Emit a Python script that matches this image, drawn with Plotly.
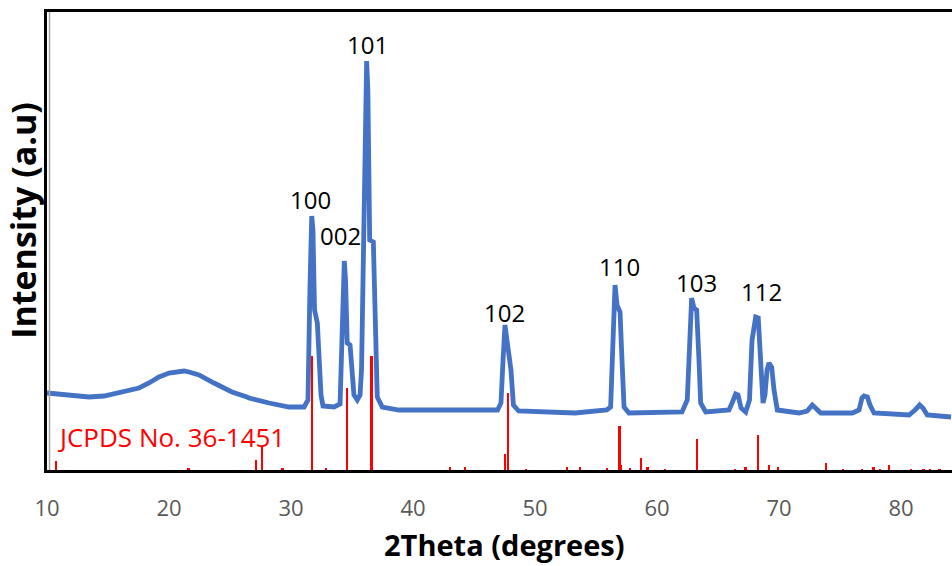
import plotly.graph_objects as go

# Measured XRD pattern (2theta in degrees, intensity in arbitrary units)
two_theta = [10.0, 11.39, 13.44, 14.67, 15.9, 16.72, 17.54, 18.36, 19.18, 20.0,
             20.82, 21.23, 21.64, 22.05, 22.46, 23.69, 25.08, 25.16, 26.39, 26.56,
             28.2, 29.02, 29.84, 31.07, 31.39, 31.55, 31.70, 31.80, 31.93, 32.16,
             32.34, 32.46, 32.62, 33.52, 34.02, 34.22, 34.37, 34.47, 34.61, 34.84,
             35.0, 35.16, 35.43, 35.66, 35.78, 36.0, 36.2, 36.3, 36.45, 36.75,
             36.93, 37.07, 37.48, 38.85, 46.93, 47.21, 47.38, 47.54, 47.70, 47.87,
             48.03, 48.23, 48.66, 53.28, 55.88, 56.2, 56.35, 56.56, 56.72, 56.97,
             57.13, 57.3, 57.7, 59.34, 62.05, 62.48, 62.66, 62.84, 63.03, 63.25,
             63.44, 63.58, 63.99, 65.9, 66.19, 66.45, 66.64, 66.89, 67.27, 67.58,
             67.79, 68.09, 68.3, 68.48, 68.69, 68.85, 69.02, 69.18, 69.4, 69.59,
             69.86, 71.64, 72.3, 72.73, 73.03, 73.42, 76.01, 76.56, 76.8, 76.97,
             77.24, 77.46, 77.79, 80.66, 81.15, 81.53, 81.8, 82.15, 84.1]
intensity = [77, 75, 73, 74, 77, 79, 82, 87, 93, 97,
             99, 99, 98, 97, 95, 87, 79, 78, 73, 72,
             67, 65, 63, 63, 70, 180, 254, 240, 160, 147,
             110, 75, 64, 63, 66, 170, 209, 190, 127, 125,
             95, 75, 70, 75, 100, 300, 409, 380, 230, 228,
             150, 73, 63, 60, 60, 67, 110, 145, 130, 117,
             100, 65, 59, 57, 60, 63, 130, 185, 165, 158,
             110, 63, 57, 57, 58, 70, 140, 172, 162, 160,
             110, 67, 58, 60, 68, 76, 75, 62, 58, 70,
             130, 153, 152, 120, 67, 75, 100, 107, 103, 80,
             60, 57, 59, 65, 62, 57, 57, 60, 72, 74,
             73, 65, 57, 55, 60, 65, 62, 55, 53]

# Reference pattern sticks (JCPDS No. 36-1451)
ref_pos = [10.76, 21.6, 27.1, 27.65, 29.3, 31.75, 32.85, 34.6, 36.6, 43.03,
           44.28, 47.55, 47.8, 49.25, 52.6, 53.7, 55.88, 56.92, 57.05, 57.8,
           58.68, 59.22, 60.64, 63.3, 66.37, 67.26, 68.3, 69.2, 69.9, 73.83,
           75.22, 76.8, 77.75, 78.28, 79.0, 80.79, 81.85, 82.38, 83.16]
ref_int = [9, 2, 10, 24, 2, 114, 2, 82, 114, 3,
           3, 16, 77, 1, 3, 3, 1.5, 44, 5, 1.5,
           12, 3, 1, 31, 1, 3, 35, 5, 3, 7,
           1, 1, 3, 1, 5, 1, 1, 1, 1]

# Miller index labels
hkl_labels = ["100", "002", "101", "102", "110", "103", "112"]
hkl_x = [31.61, 34.04, 36.25, 47.5, 56.93, 63.21, 68.54]
hkl_y = [271, 235, 426, 158, 204, 188, 179]

x_ticks = [10, 20, 30, 40, 50, 60, 70, 80]

fig = go.Figure()
fig.add_trace(go.Bar(x=ref_pos, y=ref_int, width=0.18, marker=dict(color="#FF0000", line=dict(width=0)),
                     showlegend=False, hoverinfo="skip"))
fig.add_trace(go.Scatter(x=two_theta, y=intensity, mode="lines",
                         line=dict(color="#4472C4", width=4.8), showlegend=False))

for t, x, y in zip(hkl_labels, hkl_x, hkl_y):
    fig.add_annotation(x=x, y=y, text=t, showarrow=False, xanchor="center", yanchor="middle",
                       font=dict(family="Open Sans", size=24, color="black"))

fig.add_annotation(x=10.62, y=33, text="JCPDS No. 36-1451", showarrow=False, xanchor="left",
                   yanchor="middle", font=dict(family="Open Sans", size=26, color="#FF0000"))

fig.add_annotation(x=-0.026, y=0.545, xref="paper", yref="paper", text="<b>Intensity (a.u)</b>",
                   textangle=-90, showarrow=False, xanchor="center", yanchor="middle",
                   font=dict(family="Open Sans", size=34, color="black"))

fig.add_annotation(x=0.506, y=-0.163, xref="paper", yref="paper", text="<b>2Theta (degrees)</b>",
                   showarrow=False, xanchor="center", yanchor="middle",
                   font=dict(family="Open Sans", size=29, color="black"))

# thin grey inner edge along the left and bottom axis lines
fig.add_shape(type="line", xref="paper", yref="paper", x0=0.0028, x1=0.0028, y0=0, y1=1,
              line=dict(color="#A6A6A6", width=1.5))

fig.update_layout(
    width=952, height=566,
    margin=dict(l=47, r=0, t=12, b=96, autoexpand=False),
    paper_bgcolor="white", plot_bgcolor="white",
    bargap=0,
    xaxis=dict(range=[10, 84.18], tickvals=x_ticks, ticktext=[str(v) for v in x_ticks],
               showgrid=False, zeroline=False, showline=True, linecolor="black", linewidth=3,
               mirror=True, ticks="", ticklabelstandoff=17, automargin=False,
               tickfont=dict(family="Open Sans", size=22, color="#595959")),
    yaxis=dict(range=[0, 458], showgrid=False, zeroline=False, showticklabels=False,
               showline=True, linecolor="black", linewidth=3, mirror=False, ticks="",
               automargin=False),
)

fig.write_html("out.html", config={"displayModeBar": False},
               post_script="document.body.style.margin='0';document.body.style.padding='0';")
